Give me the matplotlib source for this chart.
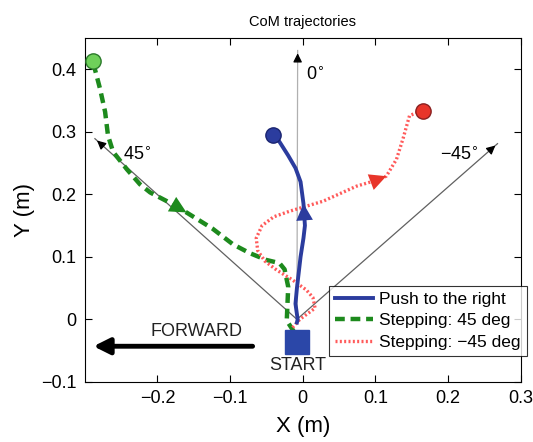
import matplotlib.pyplot as plt
import numpy as np

plt.rcParams['font.family'] = ['Liberation Sans', 'DejaVu Sans']

# trajectories (m)
push_x = [-0.008, -0.007, -0.010, -0.008, -0.005, -0.003, 0.001, 0.003, 0.001, -0.003, -0.010, -0.020, -0.032, -0.041]
push_y = [-0.005, 0.000, 0.025, 0.050, 0.080, 0.100, 0.130, 0.150, 0.185, 0.220, 0.242, 0.262, 0.284, 0.295]

step45_x = [-0.012, -0.022, -0.020, -0.025, -0.032, -0.050, -0.073, -0.096, -0.124, -0.160, -0.187, -0.210,
            -0.224, -0.242, -0.261, -0.268, -0.272, -0.279, -0.286, -0.289]
step45_y = [-0.020, -0.002, 0.052, 0.080, 0.090, 0.095, 0.106, 0.120, 0.145, 0.171, 0.189, 0.203,
            0.216, 0.240, 0.268, 0.294, 0.332, 0.369, 0.400, 0.414]

stepm45_x = [-0.014, -0.004, 0.017, 0.014, 0.005, -0.014, -0.036, -0.052, -0.062, -0.064, -0.056, -0.040, -0.018,
             0.028, 0.074, 0.097, 0.115, 0.129, 0.138, 0.147, 0.165]
stepm45_y = [-0.013, 0.000, 0.018, 0.035, 0.047, 0.063, 0.079, 0.093, 0.110, 0.130, 0.150, 0.164, 0.173,
             0.189, 0.213, 0.221, 0.229, 0.256, 0.289, 0.326, 0.334]

# direction guides
origin = (-0.008, 0.0)
dir_tips = {'0': (-0.007, 0.43), '45': (-0.286, 0.289), '-45': (0.268, 0.281)}
start = (-0.008, -0.037)

fig = plt.figure(figsize=(5.33, 4.42), dpi=100)
ax = fig.add_axes([0.159, 0.136, 0.818, 0.778])

# guide lines with arrow heads
for key, tip in dir_tips.items():
    col = '#b0b0b0' if key == '0' else '#606060'
    ax.plot([origin[0], tip[0]], [origin[1], tip[1]], color=col, lw=0.9, zorder=1)
    d = np.array(tip) - np.array(origin)
    d = d / np.hypot(d[0], d[1] * 727 / 625)
    back = (tip[0] - d[0] * 0.02, tip[1] - d[1] * 0.02)
    ax.annotate('', xy=tip, xytext=back,
                arrowprops=dict(arrowstyle='-|>', color='black', lw=0.9, mutation_scale=13), zorder=2)

ax.text(0.005, 0.39, '0$^{\\circ}$', fontsize=13, ha='left', va='center')
ax.text(-0.228, 0.262, '45$^{\\circ}$', fontsize=13, ha='center', va='center')
ax.text(0.216, 0.262, '\u221245$^{\\circ}$', fontsize=13, ha='center', va='center')

ax.plot(push_x, push_y, color='#2b3c9e', lw=2.8, label='Push to the right', zorder=4)
ax.plot(step45_x, step45_y, color='#1d8a1d', lw=3.2, ls=(0, (2.2, 1.3)), label='Stepping: 45 deg', zorder=3)
ax.plot(stepm45_x, stepm45_y, color='#ff5a5a', lw=2.4, ls=(0, (0.6, 0.7)), label='Stepping: \u221245 deg', zorder=3)

# end markers
ax.plot(push_x[-1], push_y[-1], 'o', ms=11, color='#2b3c9e', mec='#1a2470', zorder=5)
ax.plot(step45_x[-1], step45_y[-1], 'o', ms=11, color='#6fd05a', mec='#2a7a2a', zorder=5)
ax.plot(stepm45_x[-1], stepm45_y[-1], 'o', ms=11, color='#e8352a', mec='#8a2020', zorder=5)

# direction triangles (head index, tail index)
for xs, ys, i, j, col in [(push_x, push_y, 8, 7, '#2b3c9e'), (step45_x, step45_y, 9, 10, '#1d8a1d'),
                          (stepm45_x, stepm45_y, 16, 15, '#e8352a')]:
    ax.annotate('', xy=(xs[i], ys[i]), xytext=(xs[j], ys[j]),
                arrowprops=dict(arrowstyle='-|>', color=col, lw=0, mutation_scale=30, shrinkA=0, shrinkB=0),
                zorder=6)

# start square
ax.plot(start[0], start[1], 's', ms=17, color='#2b47a8', mec='#2b47a8', zorder=6)
ax.text(-0.007, -0.073, 'START', fontsize=13, ha='center', va='center', color='#222222')

# forward arrow
ax.annotate('', xy=(-0.288, -0.043), xytext=(-0.069, -0.043),
            arrowprops=dict(arrowstyle='-|>', color='black', lw=3.5, mutation_scale=24, shrinkA=0, shrinkB=0))
ax.text(-0.146, -0.020, 'FORWARD', fontsize=13, ha='center', va='center', color='#222222')

ax.set_xlim(-0.3, 0.3)
ax.set_ylim(-0.1, 0.45)
ax.set_xticks([-0.2, -0.1, 0, 0.1, 0.2, 0.3])
ax.set_xticklabels(['\u22120.2', '\u22120.1', '0', '0.1', '0.2', '0.3'])
ax.set_yticks([-0.1, 0, 0.1, 0.2, 0.3, 0.4])
ax.set_yticklabels(['\u22120.1', '0', '0.1', '0.2', '0.3', '0.4'])
ax.tick_params(direction='in', top=True, right=True, labelsize=13, length=5, width=0.8, pad=6)
for s in ax.spines.values():
    s.set_linewidth(0.8)
ax.set_xlabel('X (m)', fontsize=16, labelpad=6)
ax.set_ylabel('Y (m)', fontsize=16, labelpad=4)
ax.set_title('CoM trajectories', fontsize=10.5, pad=9)

leg = ax.legend(loc='upper left', bbox_to_anchor=(0.56, 0.279), fontsize=12.5, frameon=True,
                fancybox=False, edgecolor='black', handlelength=2.2, handletextpad=0.35,
                borderpad=0.35, labelspacing=0.35, borderaxespad=0)
leg.get_frame().set_linewidth(0.8)
leg.set_zorder(10)

fig.savefig('out.png', dpi=100)
